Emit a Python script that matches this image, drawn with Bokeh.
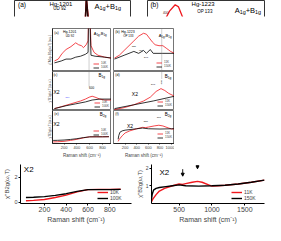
import math
from bokeh.plotting import figure
from bokeh.models import (Range1d, Label, Span, Legend, LegendItem, FixedTicker,
                          LinearAxis, Spacer, Arrow, NormalHead)
from bokeh.layouts import row, column
from bokeh.embed import file_html
from bokeh.resources import INLINE

FONT = "Liberation Sans"
RED = "#f0181e"
BLK = "#000000"
DARK = "#2a0808"

# ---------------- data (arbitrary units) ----------------
# Hg-1201 UD92, A1g+B1g
a1g_1201_x_10k = [50, 110, 171, 231, 307, 382, 427, 472, 503, 545, 575, 590, 620, 668, 729, 834, 940]
a1g_1201_y_10k = [1.1, 1.3, 1.9, 2.3, 2.6, 3.0, 2.8, 2.7, 2.5, 2.8, 3.2, 9.0, 2.7, 2.0, 1.7, 1.5, 1.4]
a1g_1201_x_100k = [50, 156, 231, 307, 382, 457, 533, 575, 590, 620, 684, 834, 940]
a1g_1201_y_100k = [0.9, 1.1, 1.3, 1.3, 1.5, 1.6, 1.8, 2.0, 9.0, 1.7, 1.6, 1.5, 1.4]
a1g_1201_mode = 590

# Hg-1223 OP133, A1g+B1g
a1g_1223_x_11k = [17, 100, 183, 267, 350, 433, 517, 567, 617, 667, 717, 783, 850, 917, 983, 1050]
a1g_1223_y_11k = [1.4, 1.7, 2.2, 2.7, 3.2, 3.7, 4.0, 3.9, 3.5, 3.1, 2.8, 2.7, 2.7, 2.4, 2.1, 1.9]
a1g_1223_x_150k = [17, 183, 267, 350, 433, 517, 567, 633, 683, 850, 1050]
a1g_1223_y_150k = [1.3, 1.7, 1.9, 2.1, 1.9, 2.2, 1.9, 2.3, 1.9, 1.9, 1.9]
a1g_1223_mode = 830

# Hg-1201 B1g (x2)
b1g_1201_x_10k = [50, 156, 307, 457, 533, 593, 638, 684, 759, 834, 940]
b1g_1201_y_10k = [0.2, 0.4, 0.7, 1.0, 1.2, 1.4, 1.5, 1.4, 1.2, 1.1, 1.1]
b1g_1201_x_100k = [50, 231, 382, 533, 638, 759, 940]
b1g_1201_y_100k = [0.2, 0.5, 0.7, 0.9, 1.1, 1.2, 1.2]

# Hg-1223 B1g (x2)
b1g_1223_x_11k = [17, 183, 350, 517, 633, 733, 817, 883, 950, 1050]
b1g_1223_y_11k = [0.1, 0.3, 0.6, 1.0, 1.4, 2.0, 2.3, 2.1, 1.8, 1.5]
b1g_1223_x_150k = [17, 350, 683, 1050]
b1g_1223_y_150k = [0.2, 0.6, 1.0, 1.5]

# Hg-1201 B2g (x2)
b2g_1201_x = [30, 100, 200, 300, 400, 500, 600, 700, 800, 900]
b2g_1201_y_10k = [0.12, 0.15, 0.22, 0.38, 0.57, 0.82, 1.0, 1.02, 1.02, 1.03]
b2g_1201_y_100k = [0.38, 0.4, 0.45, 0.55, 0.68, 0.86, 1.0, 1.0, 1.0, 1.02]

# Hg-1223 B2g (x2)
b2g_1223_x_11k = [80, 100, 150, 200, 280, 400, 500, 550, 600, 700, 780, 850, 950, 1000, 1100, 1200, 1400, 1600, 1800]
b2g_1223_y_11k = [0.1, 0.25, 0.5, 0.7, 0.85, 1.0, 1.1, 1.08, 1.12, 1.2, 1.25, 1.2, 1.05, 0.98, 1.0, 1.03, 1.1, 1.2, 1.32]
b2g_1223_x_150k = [80, 90, 110, 150, 200, 300, 400, 500, 600, 800, 1000, 1200, 1400, 1600, 1800]
b2g_1223_y_150k = [0.25, 0.5, 0.75, 0.85, 0.9, 0.95, 1.0, 1.05, 1.0, 0.98, 1.0, 1.03, 1.1, 1.2, 1.32]
b2g_1223_modes = [555, 780]

ticks_mid_l = [200, 400, 600, 800]
ticks_mid_r = [200, 400, 600, 800, 1000]
ticks_bot_l = [200, 400, 600, 800]
ticks_bot_r = [500, 1000, 1500]
XLAB = "Raman shift (cm\u207b\u00b9)"
YLAB_B2G = "\u03c7''B2g(\u03c9,T)"

# ---------------- helpers ----------------
def mkfig(w, h, xr, yr, bl=0, br=0, bt=0, bb=0, outline=True):
    p = figure(width=w, height=h, x_range=Range1d(*xr), y_range=Range1d(*yr),
               x_axis_location=None, y_axis_location=None,
               output_backend="svg", toolbar_location=None,
               min_border_left=bl, min_border_right=br,
               min_border_top=bt, min_border_bottom=bb)
    p.xgrid.grid_line_color = None
    p.ygrid.grid_line_color = None
    p.outline_line_color = "#3a3a3a" if outline else None
    p.outline_line_width = 0.7
    p.background_fill_color = "white"
    p.border_fill_color = "white"
    return p


def add_axis(p, side, ticks=(), lsize=0, label=None, label_size=5,
             tick_out=0, standoff=0, label_standoff=0, lw=1.0):
    ax = LinearAxis(ticker=FixedTicker(ticks=list(ticks)))
    ax.major_tick_out = tick_out
    ax.major_tick_in = 0
    ax.minor_tick_out = 0
    ax.minor_tick_in = 0
    ax.major_label_text_font_size = f"{lsize}px"
    ax.major_label_text_font = FONT
    ax.major_label_standoff = standoff
    ax.axis_line_width = lw
    ax.major_tick_line_width = lw
    if label:
        ax.axis_label = label
        ax.axis_label_text_font = FONT
        ax.axis_label_text_font_size = f"{label_size}px"
        ax.axis_label_text_font_style = "normal"
        ax.axis_label_standoff = label_standoff
    p.add_layout(ax, side)
    return ax


def fx2x(p, fx):
    return p.x_range.start + fx * (p.x_range.end - p.x_range.start)


def fy2y(p, fy):
    return p.y_range.end - fy * (p.y_range.end - p.y_range.start)


def lab(p, fx, fy, text, size, color=BLK, align="left", baseline="top",
        angle=0, xoff=0, yoff=0, font=FONT, x=None):
    xx = fx2x(p, fx) if x is None else x
    p.add_layout(Label(x=xx, y=fy2y(p, fy), text=text, text_font=font,
                       text_font_size=f"{size}px", text_color=color,
                       text_align=align, text_baseline=baseline, angle=angle,
                       x_offset=xoff, y_offset=yoff))


CW = {'A': 0.667, 'B': 0.667, '+': 0.584, ',': 0.278, '1': 0.556, '2': 0.556, 'g': 0.556}


def sublab(p, fx, fy, parts, size, color=BLK):
    off = 0.0
    for t, sub in parts:
        s = size * 0.72 if sub else size
        lab(p, fx, fy, t, round(s, 1), color=color, xoff=off,
            yoff=(-size * 0.38 if sub else 0))
        off += sum(CW.get(c, 0.56) for c in t) * s


def sym(p, fx, fy, base, size, sep="+"):
    if base == "A1g+B1g":
        parts = [("A", False), ("1g", True), (sep + "B", False), ("1g", True)]
    elif base == "B1g":
        parts = [("B", False), ("1g", True)]
    else:
        parts = [("B", False), ("2g", True)]
    sublab(p, fx, fy, parts, size)


def legend(p, items, loc, size, gw, ih):
    leg = Legend(items=[LegendItem(label=t, renderers=[r]) for t, r in items],
                 location=loc, label_text_font=FONT,
                 label_text_font_size=f"{size}px", glyph_width=gw,
                 glyph_height=ih, label_height=ih, label_standoff=2,
                 spacing=0, padding=0, margin=0, background_fill_alpha=0,
                 border_line_color=None)
    p.add_layout(leg)


# ---------------- Row A : enlarged top strips ----------------
ta = mkfig(133, 28, (20, 940), (6.0, 8.6), bl=14, br=3, bt=0, bb=12, outline=False)
for side in ("left", "right", "above"):
    add_axis(ta, side, lw=0.8)
ta.line(a1g_1201_x_10k, a1g_1201_y_10k, color=RED, line_width=1.3)
ta.line(a1g_1201_x_100k, a1g_1201_y_100k, color=DARK, line_width=1.6)
lab(ta, 0.03, 0.0, "(a)", 6.5)
lab(ta, 0.40, 0.0, "Hg-1201", 6, align="center")
lab(ta, 0.39, 0.33, "UD 92", 4.5, align="center")
sym(ta, 0.69, 0.12, "A1g+B1g", 7.5)

tb = mkfig(132, 28, (107, 1840), (3.45, 4.2), bl=14, br=1, bt=0, bb=12, outline=False)
for side in ("left", "right", "above"):
    add_axis(tb, side, lw=0.8)
tb.line(a1g_1223_x_11k, a1g_1223_y_11k, color=RED, line_width=1.3)
tb.line(a1g_1223_x_150k, a1g_1223_y_150k, color=BLK, line_width=1.0)
lab(tb, 0.025, 0.03, "(b)", 6.5)
lab(tb, 0.475, 0.03, "Hg-1223", 6, align="center")
lab(tb, 0.49, 0.5, "OP 133", 4.5, align="center")
sym(tb, 0.745, 0.35, "A1g+B1g", 7.5)
lab(tb, 0.155, 0.62, "400", 3.2, color="#551111", align="center")

# ---------------- Row B : 2x3 grid ----------------
LW = 0.8
ml1 = mkfig(71, 43, (20, 940), (0, 4.5), bl=12)
ml2 = mkfig(71, 39, (20, 940), (0, 4.1), bl=12)
ml3 = mkfig(71, 50, (20, 940), (-0.15, 5.55), bl=12, bb=13)
mr1 = mkfig(63, 43, (0, 1050), (0, 4.5), bl=2)
mr2 = mkfig(63, 39, (0, 1050), (0, 4.1), bl=2)
mr3 = mkfig(63, 50, (0, 1050), (-0.05, 2.3), bl=2, bb=13)

add_axis(ml1, "left", label="\u03c7''A1g+B1g(\u03c9,T) (a.u.)", label_size=3, label_standoff=1, lw=0.7)
add_axis(ml2, "left", label="\u03c7''B1g(\u03c9,T) (a.u.)", label_size=3, label_standoff=1, lw=0.7)
add_axis(ml3, "left", label="\u03c7''B2g(\u03c9,T) (a.u.)", label_size=3, label_standoff=1, lw=0.7)
for p, tk in ((ml3, ticks_mid_l), (mr3, ticks_mid_r)):
    add_axis(p, "below", ticks=tk, lsize=4, label=XLAB, label_size=4.5,
             tick_out=1, standoff=1, label_standoff=1, lw=0.7)

# row 1
r = ml1.line(a1g_1201_x_10k, a1g_1201_y_10k, color=RED, line_width=LW)
k = ml1.line(a1g_1201_x_100k, a1g_1201_y_100k, color=BLK, line_width=LW)
ml1.add_layout(Span(location=a1g_1201_mode, dimension="height", line_color="#777777",
                    line_dash="1 1", line_width=0.7))
legend(ml1, [("10K", r), ("100K", k)], (41, 2), 3, 6, 3)
lab(ml1, 0.03, 0.06, "(a)", 3.5)
lab(ml1, 0.29, 0.03, "Hg-1201", 3.5, align="center")
lab(ml1, 0.295, 0.12, "UD 92", 3, align="center")
sym(ml1, 0.70, 0.06, "A1g+B1g", 4, sep=",")

r = mr1.line(a1g_1223_x_11k, a1g_1223_y_11k, color=RED, line_width=LW)
k = mr1.line(a1g_1223_x_150k, a1g_1223_y_150k, color=BLK, line_width=LW)
mr1.add_layout(Span(location=a1g_1223_mode, dimension="height", line_color="#777777",
                    line_dash="1 1", line_width=0.7))
legend(mr1, [("11K", r), ("150K", k)], (43, 3), 3, 6, 3)
lab(mr1, 0.03, 0.04, "(b)", 3.5)
lab(mr1, 0.127, 0.03, "Hg-1223", 3.5)
lab(mr1, 0.16, 0.13, "OP 133", 3)
sym(mr1, 0.74, 0.11, "A1g+B1g", 4, sep=",")
lab(mr1, 0.0, 0.42, "350", 2.5, align="center", x=350)
lab(mr1, 0.0, 0.5, "470", 2.5, align="center", x=470)
lab(mr1, 0.0, 0.66, "540", 2.5, align="center", x=560)

# row 2
r = ml2.line(b1g_1201_x_10k, b1g_1201_y_10k, color=RED, line_width=LW)
k = ml2.line(b1g_1201_x_100k, b1g_1201_y_100k, color=BLK, line_width=LW)
ml2.segment(x0=[a1g_1201_mode], y0=[fy2y(ml2, 0.0)], x1=[a1g_1201_mode], y1=[fy2y(ml2, 0.38)],
            line_color="#777777", line_dash="1 1", line_width=0.7)
legend(ml2, [("10K", r), ("100K", k)], (42, 2), 3, 6, 3)
lab(ml2, 0.016, 0.05, "(c)", 3.5)
sym(ml2, 0.78, 0.05, "B1g", 4.5)
lab(ml2, 0.016, 0.44, "X2", 5)
lab(ml2, 0.0, 0.38, "600", 3, align="center", x=a1g_1201_mode + 40)
lab(ml2, 0.0, 0.66, "350", 2.5, color="#5555ff", align="center", x=250)

r = mr2.line(b1g_1223_x_11k, b1g_1223_y_11k, color=RED, line_width=LW)
k = mr2.line(b1g_1223_x_150k, b1g_1223_y_150k, color=BLK, line_width=LW)
mr2.segment(x0=[a1g_1223_mode], y0=[fy2y(mr2, 0.0)], x1=[a1g_1223_mode], y1=[fy2y(mr2, 0.2)],
            line_color="#777777", line_dash="1 1", line_width=0.7)
legend(mr2, [("11K", r), ("150K", k)], (44, 3), 3, 6, 3)
lab(mr2, 0.03, 0.05, "(d)", 3.5)
sym(mr2, 0.84, 0.07, "B1g", 4.5)
lab(mr2, 0.3, 0.51, "X2", 5)
lab(mr2, 0.0, 0.22, "600", 2.5, align="right", baseline="middle", angle=math.pi / 2, x=a1g_1223_mode)
lab(mr2, 0.0, 0.33, "540", 2.5, align="center", x=680)

# row 3
r = ml3.line(b2g_1201_x, b2g_1201_y_10k, color=RED, line_width=LW)
k = ml3.line(b2g_1201_x, b2g_1201_y_100k, color=BLK, line_width=LW)
legend(ml3, [("10K", r), ("100K", k)], (41, 7), 3, 6, 3)
lab(ml3, 0.03, 0.05, "(e)", 3.5)
sym(ml3, 0.80, 0.05, "B2g", 4.5)
lab(ml3, 0.016, 0.33, "X2", 5)

r = mr3.line(b2g_1223_x_11k, b2g_1223_y_11k, color=RED, line_width=LW)
k = mr3.line(b2g_1223_x_150k, b2g_1223_y_150k, color=BLK, line_width=LW)
legend(mr3, [("11K", r), ("150K", k)], (44, 4), 3, 6, 3)
lab(mr3, 0.03, 0.05, "(f)", 3.5)
sym(mr3, 0.84, 0.05, "B2g", 4.5)
lab(mr3, 0.22, 0.375, "X2", 5)
lab(mr3, 0.0, 0.33, "530", 2.5, align="center", x=b2g_1223_modes[0])
lab(mr3, 0.0, 0.22, "760", 2.5, align="center", x=b2g_1223_modes[1])

# ---------------- Row C : bottom panels ----------------
bl_ = mkfig(133, 65, (-20, 1000), (-0.1, 3.0), bl=20, br=2, bt=4, bb=19, outline=False)
add_axis(bl_, "left", ticks=[0, 2], lsize=5.5, label=YLAB_B2G, label_size=6,
         tick_out=2, standoff=1, label_standoff=1)
add_axis(bl_, "below", ticks=ticks_bot_l, lsize=7, label=XLAB, label_size=7,
         tick_out=2, standoff=1, label_standoff=1)
r = bl_.line(b2g_1201_x, b2g_1201_y_10k, color=RED, line_width=1.4)
k = bl_.line(b2g_1201_x, b2g_1201_y_100k, color=BLK, line_width=1.4)
legend(bl_, [("10K", r), ("100K", k)], (77, 2), 5, 11, 6)
lab(bl_, 0.03, 0.02, "X2", 8)

br_ = mkfig(132, 65, (80, 1800), (0, 2.2), bl=13, br=1, bt=4, bb=19, outline=False)
add_axis(br_, "left", ticks=[1, 2], lsize=5, label=YLAB_B2G, label_size=5.5,
         tick_out=2, standoff=1, label_standoff=0)
add_axis(br_, "below", ticks=ticks_bot_r, lsize=7, label=XLAB, label_size=7,
         tick_out=2, standoff=1, label_standoff=1)
r = br_.line(b2g_1223_x_11k, b2g_1223_y_11k, color=RED, line_width=1.4)
k = br_.line(b2g_1223_x_150k, b2g_1223_y_150k, color=BLK, line_width=1.4)
legend(br_, [("11K", r), ("150K", k)], (80, 2), 5, 11, 6)
lab(br_, 0.07, 0.1, "X2", 8)
br_.add_layout(Arrow(x_start=b2g_1223_modes[0], y_start=fy2y(br_, 0.12), x_end=b2g_1223_modes[0],
                     y_end=fy2y(br_, 0.3), line_width=0.9, end=NormalHead(size=3, fill_color=BLK)))
br_.add_layout(Arrow(x_start=b2g_1223_modes[1], y_start=fy2y(br_, 0.03), x_end=b2g_1223_modes[1],
                     y_end=fy2y(br_, 0.11), line_width=0.9, end=NormalHead(size=3, fill_color=BLK)))

# ---------------- layout ----------------
rowA = row(ta, tb)
rowB = row(Spacer(width=40, height=132), column(ml1, ml2, ml3), column(mr1, mr2, mr3))
rowC = row(bl_, br_)
page = column(rowA, rowB, rowC)

open("out.html", "w").write(file_html(page, INLINE))
